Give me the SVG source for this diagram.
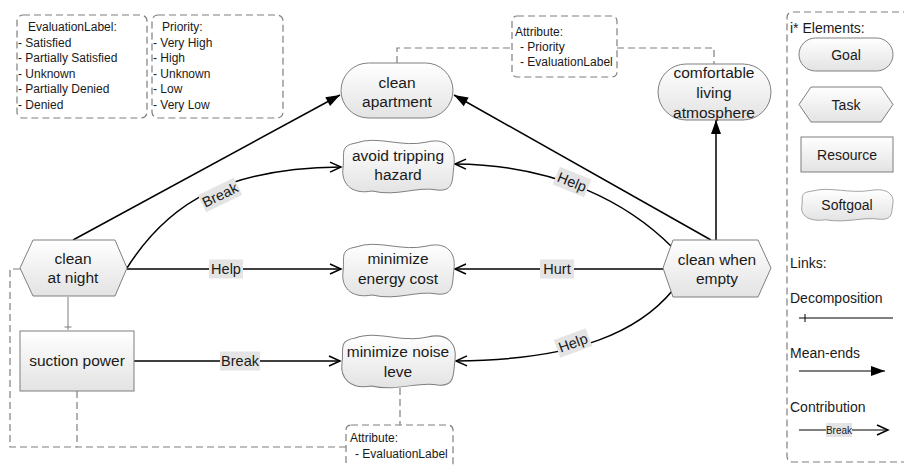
<svg xmlns="http://www.w3.org/2000/svg" width="904" height="466" viewBox="0 0 904 466">
<style>
text{font-family:"Liberation Sans",Arial,sans-serif;fill:#1a1a1a}
.n{font-size:15.5px;text-anchor:middle}
.s{font-size:12px}
.lg{font-size:14px}
.lbl{font-size:14.5px;text-anchor:middle}
.lblbg{fill:#e4e4e4}
.shape{fill:url(#gr);stroke:#7f7f7f;stroke-width:1}
.dash{fill:none;stroke:#7f7f7f;stroke-width:1.2;stroke-dasharray:7,4}
.me{fill:none;stroke:#000;stroke-width:1.5;marker-end:url(#filled)}
.ct{fill:none;stroke:#000;stroke-width:1.5;marker-end:url(#open)}
.box{fill:#fff;stroke:#7f7f7f;stroke-width:1.2;stroke-dasharray:7,4}
</style>
<defs>
<linearGradient id="gr" x1="0" y1="0" x2="0" y2="1">
<stop offset="0" stop-color="#ffffff"/>
<stop offset="1" stop-color="#e3e3e3"/>
</linearGradient>
<marker id="filled" markerUnits="userSpaceOnUse" markerWidth="16" markerHeight="12" refX="14" refY="5" orient="auto" overflow="visible">
<path d="M0,0 L14,5 L0,10 Z" fill="#000"/>
</marker>
<marker id="open" markerUnits="userSpaceOnUse" markerWidth="14" markerHeight="12" refX="11" refY="5" orient="auto" overflow="visible">
<path d="M0,0 L11,5 L0,10" fill="none" stroke="#000" stroke-width="1.5"/>
</marker>
<path id="sg" d="M14,5 C35,-3 60,10 85,4 C106,-1 114,12 112,27 C110,40 113,54 95,52 C75,48 55,59 30,53 C9,57 -1,45 1,30 C3,15 -3,8 14,5 Z"/>
</defs>

<g id="eval-label-box">
<rect class="box" x="17" y="15" width="130" height="103" rx="6"/>
<text class="s" x="28" y="31">EvaluationLabel:</text>
<text class="s" x="18" y="46.5">- Satisfied</text>
<text class="s" x="18" y="62">- Partially Satisfied</text>
<text class="s" x="18" y="77.5">- Unknown</text>
<text class="s" x="18" y="93">- Partially Denied</text>
<text class="s" x="18" y="108.5">- Denied</text>
</g>
<g id="priority-box">
<rect class="box" x="152" y="15" width="131" height="103" rx="6"/>
<text class="s" x="162" y="31">Priority:</text>
<text class="s" x="153" y="46.5">- Very High</text>
<text class="s" x="153" y="62">- High</text>
<text class="s" x="153" y="77.5">- Unknown</text>
<text class="s" x="153" y="93">- Low</text>
<text class="s" x="153" y="108.5">- Very Low</text>
</g>

<g id="attr-lines">
<path class="dash" d="M397,63 V48 H512"/>
<path class="dash" d="M617,48 H714 V64"/>
<path class="dash" d="M20,269 H10 V447 H346"/>
<path class="dash" d="M77,391 V447"/>
<path class="dash" d="M400,388 V425"/>
</g>

<g id="attr-top">
<rect class="box" x="512" y="16" width="105" height="61" rx="5"/>
<text class="s" x="515" y="36">Attribute:</text>
<text class="s" x="520" y="51">- Priority</text>
<text class="s" x="520" y="66">- EvaluationLabel</text>
</g>
<g id="attr-bottom">
<rect class="box" x="346" y="425" width="107" height="50" rx="5"/>
<text class="s" x="350" y="442">Attribute:</text>
<text class="s" x="355" y="458">- EvaluationLabel</text>
</g>

<g id="connectors">
<path class="me" d="M73,240 L340,95"/>
<path class="me" d="M711,240 L454,95"/>
<path class="me" d="M716,240 L716,120"/>
<path class="ct" d="M127,268 C170,200 230,168 341,167"/>
<path class="ct" d="M127,269 L341,269"/>
<path class="ct" d="M134,361 L340,361"/>
<path class="ct" d="M672,247 C630,205 560,165 455,164"/>
<path class="ct" d="M663,269 L455,269"/>
<path class="ct" d="M673,290 C640,330 580,360 456,361"/>
<path d="M68,297 V330 M64.5,327 H71.5" fill="none" stroke="#7f7f7f" stroke-width="1"/>
<g transform="translate(220,195) rotate(-26)"><rect class="lblbg" x="-20" y="-9.5" width="40" height="19"/><text class="lbl" x="0" y="5">Break</text></g>
<g transform="translate(226,269)"><rect class="lblbg" x="-17" y="-9.5" width="34" height="19"/><text class="lbl" x="0" y="5">Help</text></g>
<g transform="translate(240,361)"><rect class="lblbg" x="-20" y="-9.5" width="40" height="19"/><text class="lbl" x="0" y="5">Break</text></g>
<g transform="translate(572,182) rotate(22)"><rect class="lblbg" x="-17" y="-9.5" width="34" height="19"/><text class="lbl" x="0" y="5">Help</text></g>
<g transform="translate(557,269)"><rect class="lblbg" x="-17" y="-9.5" width="34" height="19"/><text class="lbl" x="0" y="5">Hurt</text></g>
<g transform="translate(573,343) rotate(-20)"><rect class="lblbg" x="-17" y="-9.5" width="34" height="19"/><text class="lbl" x="0" y="5">Help</text></g>
</g>

<g id="clean-apartment">
<rect class="shape" x="341" y="63" width="112" height="55" rx="27.5"/>
<text class="n" x="397" y="88">clean</text>
<text class="n" x="397" y="107">apartment</text>
</g>
<g id="comfortable-living-atmosphere">
<rect class="shape" x="658" y="64" width="113" height="56" rx="28"/>
<text class="n" x="714" y="78">comfortable</text>
<text class="n" x="714" y="98">living</text>
<text class="n" x="714" y="118">atmosphere</text>
</g>
<g id="avoid-tripping-hazard">
<use href="#sg" class="shape" transform="translate(342,138)"/>
<text class="n" x="398" y="161">avoid tripping</text>
<text class="n" x="398" y="180">hazard</text>
</g>
<g id="minimize-energy-cost">
<use href="#sg" class="shape" transform="translate(342,242)"/>
<text class="n" x="398" y="264">minimize</text>
<text class="n" x="398" y="284">energy cost</text>
</g>
<g id="minimize-noise-leve">
<use href="#sg" class="shape" transform="translate(341,333) scale(1.018,1)"/>
<text class="n" x="398" y="357">minimize noise</text>
<text class="n" x="398" y="377">leve</text>
</g>
<g id="clean-at-night">
<polygon class="shape" points="20,268 33,240 115,240 127,268 115,296 33,296"/>
<text class="n" x="73" y="264">clean</text>
<text class="n" x="73" y="283">at night</text>
</g>
<g id="clean-when-empty">
<polygon class="shape" points="663,268 673,240 758,240 771,268 758,297 673,297"/>
<text class="n" x="717" y="265">clean when</text>
<text class="n" x="717" y="284">empty</text>
</g>
<g id="suction-power">
<rect class="shape" x="20" y="331" width="114" height="60"/>
<text class="n" x="77" y="366">suction power</text>
</g>

<g id="legend">
<path d="M910,12 H793 Q787,12 787,18 V456 Q787,462 793,462 H910" fill="#fff" stroke="#7f7f7f" stroke-width="1.2" stroke-dasharray="7,4"/>
<text class="lg" x="790" y="33">i* Elements:</text>
<rect class="shape" x="799" y="38" width="94" height="33" rx="16.5"/>
<text class="lg" x="846" y="60" text-anchor="middle">Goal</text>
<polygon class="shape" points="799,104.5 811,87 881,87 893,104.5 881,122 811,122"/>
<text class="lg" x="846" y="109.5" text-anchor="middle">Task</text>
<rect class="shape" x="801" y="137" width="92" height="35"/>
<text class="lg" x="847" y="159.5" text-anchor="middle">Resource</text>
<use href="#sg" class="shape" transform="translate(801,188) scale(0.82,0.6)" vector-effect="non-scaling-stroke"/>
<text class="lg" x="847" y="210" text-anchor="middle">Softgoal</text>
<text class="lg" x="790" y="268">Links:</text>
<text class="lg" x="790" y="303">Decomposition</text>
<path d="M799,318 H893 M805,314 V322" stroke="#000" stroke-width="1" fill="none"/>
<text class="lg" x="790" y="358">Mean-ends</text>
<path d="M799,371 H885" stroke="#000" stroke-width="1" fill="none" marker-end="url(#filled)"/>
<text class="lg" x="790" y="412">Contribution</text>
<path d="M799,430 H888" stroke="#000" stroke-width="1" fill="none" marker-end="url(#open)"/>
<rect class="lblbg" x="826" y="423" width="26" height="14"/>
<text x="839" y="434" font-size="10px" text-anchor="middle">Break</text>
</g>
</svg>
